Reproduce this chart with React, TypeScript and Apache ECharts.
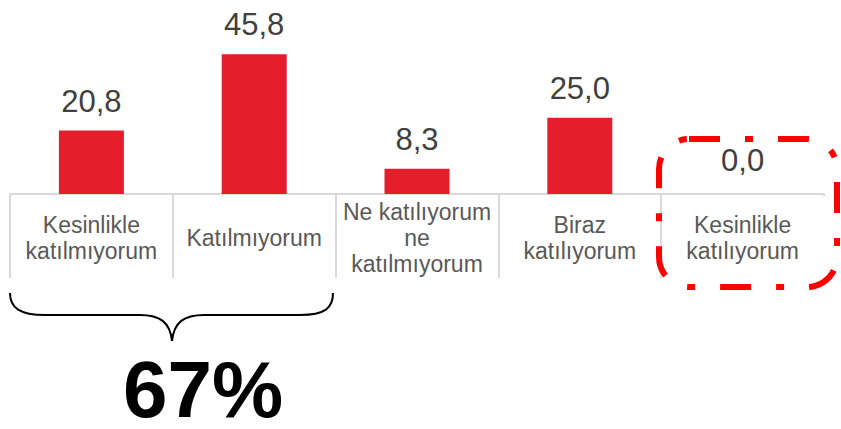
import React, { useEffect, useRef } from "react";
import * as echarts from "echarts";

const categories: string[] = [
  "Kesinlikle\nkatılmıyorum",
  "Katılmıyorum",
  "Ne katılıyorum\nne\nkatılmıyorum",
  "Biraz\nkatılıyorum",
  "Kesinlikle\nkatılıyorum",
];
const values: number[] = [20.8, 45.8, 8.3, 25.0, 0.0];
const summaryText = "67%";

const FONT = "'Liberation Sans', Arial, sans-serif";

const braceD =
  "M10,293 C10,308 20,315 45,315 L140,315 C160,315 170,322 172,341 C174,322 184,315 204,315 L300,315 C325,315 333,308 333,293";

let registered = false;
function ensureShapes() {
  if (registered) return;
  echarts.graphic.registerShape("brace", echarts.graphic.extendPath(braceD, {}));
  registered = true;
}

export default function App() {
  const ref = useRef<HTMLDivElement>(null);
  useEffect(() => {
    if (!ref.current) return;
    ensureShapes();
    const chart = echarts.init(ref.current, undefined, { renderer: "svg" });
    const fmt = (v: number) => v.toFixed(1).replace(".", ",");
    chart.setOption({
      animation: false,
      grid: { left: 10, right: 17, top: 11, bottom: 235, containLabel: false },
      xAxis: {
        type: "category",
        data: categories,
        boundaryGap: true,
        axisLine: { show: true, lineStyle: { color: "#d9d9d9", width: 2 } },
        axisTick: {
          show: true,
          interval: 0,
          length: 84,
          lineStyle: { color: "#d9d9d9", width: 2 },
        },
        axisLabel: {
          interval: 0,
          hideOverlap: false,
          margin: 44,
          verticalAlign: "middle",
          color: "#595959",
          fontSize: 23,
          lineHeight: 26,
          fontFamily: FONT,
        },
      },
      yAxis: {
        type: "value",
        min: 0,
        max: 60,
        show: false,
        splitLine: { show: false },
      },
      series: [
        {
          type: "bar",
          barWidth: 65,
          itemStyle: { color: "#e41e2b" },
          label: {
            show: true,
            position: "top",
            distance: 14,
            color: "#404040",
            fontSize: 31,
            fontFamily: FONT,
            formatter: (p: any) => fmt(p.value),
          },
          data: values.map((v) => (v === 0 ? { value: v, label: { distance: 18 } } : v)),
        },
      ],
      graphic: [
        {
          type: "line",
          z: 100,
          shape: { x1: 824, y1: 196, x2: 824, y2: 280 },
          style: { stroke: "#ffffff", lineWidth: 4 },
        },
        {
          type: "brace",
          x: 0,
          y: 0,
          shape: {},
          style: { fill: null, stroke: "#000000", lineWidth: 2 },
        },
        {
          type: "text",
          x: 203,
          y: 389,
          style: {
            text: summaryText,
            fill: "#000000",
            font: `bold 80px ${FONT}`,
            lineHeight: 60,
            textAlign: "center",
            textVerticalAlign: "middle",
          },
        },
        {
          type: "rect",
          z: 101,
          shape: { x: 659, y: 139, width: 178, height: 148, r: 30 },
          style: {
            fill: null,
            stroke: "#ff0000",
            lineWidth: 6,
            lineDash: [31, 25, 8, 25],
          },
        },
      ],
    });
    return () => chart.dispose();
  }, []);
  return (
    <div
      ref={ref}
      style={{ position: "fixed", left: 0, top: 0, width: 841, height: 429, background: "#fff" }}
    />
  );
}
